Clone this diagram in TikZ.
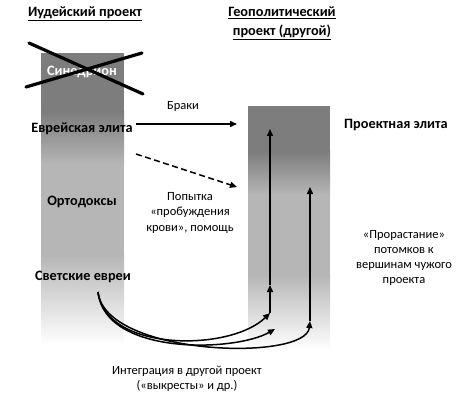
\documentclass[tikz,border=0pt]{standalone}
\usepackage{fontspec}
\setmainfont{Carlito}
\usetikzlibrary{arrows.meta}
\definecolor{gdark}{RGB}{125,125,125}
\definecolor{glight}{RGB}{182,182,182}
\begin{document}
\begin{tikzpicture}[x=1pt,y=-1pt,
  boldlbl/.style={font=\fontsize{14.3}{19}\selectfont\bfseries, inner sep=0pt},
  normlbl/.style={font=\fontsize{12.5}{15.3}\selectfont, inner sep=0pt, align=center},
  arr/.style={line width=1.5pt, -{Triangle[length=7pt,width=6pt]}},
  dasharr/.style={arr, dash pattern=on 6pt off 3.5pt},
  cross/.style={line width=3.2pt, line cap=round}]
\useasboundingbox (0,0) rectangle (474,401);
% left column
\fill[gdark] (41,53) rectangle (124,112);
\shade[top color=gdark, bottom color=glight] (41,111.5) rectangle (124,165);
\fill[glight] (41,164.5) rectangle (124,255);
\shade[top color=glight, bottom color=white] (41,254.5) rectangle (124,345);
% right column
\fill[gdark] (248,106) rectangle (330,152);
\shade[top color=gdark, bottom color=glight] (248,151.5) rectangle (330,195);
\fill[glight] (248,194.5) rectangle (330,275);
\shade[top color=glight, bottom color=white] (248,274.5) rectangle (330,350);
% titles
\node[boldlbl] (t1) at (85,14) {\underline{Иудейский проект}};
\node[boldlbl, align=center] (t2) at (282,23.5) {\underline{Геополитический}\\\underline{проект (другой)}};
% left labels
\node[boldlbl, text=white] (sin) at (82,72) {Синедрион};
\coordinate (xa1) at (29,43); \coordinate (xa2) at (143,94);
\coordinate (xb1) at (26,87); \coordinate (xb2) at (142,53);
\draw[cross] (xa1) -- (xa2);
\draw[cross] (xb1) -- (xb2);
\node[boldlbl] (elite) at (82,129) {Еврейская элита};
\node[boldlbl] (orth) at (82,202) {Ортодоксы};
\node[boldlbl] (sec) at (83,277) {Светские евреи};
\node[boldlbl] (pel) at (396,125) {Проектная элита};
% middle labels
\node[normlbl] (brak) at (183,106) {Браки};
\node[normlbl] (pop) at (190,213) {Попытка\\«пробуждения\\крови», помощь};
\node[normlbl] (pror) at (404,258) {«Прорастание»\\потомков к\\вершинам чужого\\проекта};
\node[normlbl] (integ) at (187,379) {Интеграция в другой проект\\(«выкресты» и др.)};
% arrows
\coordinate (s1) at (136,124); \coordinate (e1) at (237,124);
\draw[arr] (s1) -- (e1);
\coordinate (s2) at (136,154); \coordinate (e2) at (237,187);
\draw[dasharr] (s2) -- (e2);
\coordinate (c0) at (98,292);
\coordinate (a0) at (270,313); \coordinate (am) at (270,285); \coordinate (at) at (270,129);
\coordinate (b2) at (275,329);
\coordinate (b0) at (310,321); \coordinate (bt) at (310,187);
\draw[arr] (c0) .. controls (105,352) and (230,352) .. (a0);
\draw[arr] (c0) .. controls (105,356) and (235,352) .. (b2);
\draw[arr] (c0) .. controls (105,356) and (306,362) .. (b0);
\draw[arr] (a0) -- (am);
\draw[arr] (am) -- (at);
\draw[arr] (b0) -- (bt);
\end{tikzpicture}
\end{document}
